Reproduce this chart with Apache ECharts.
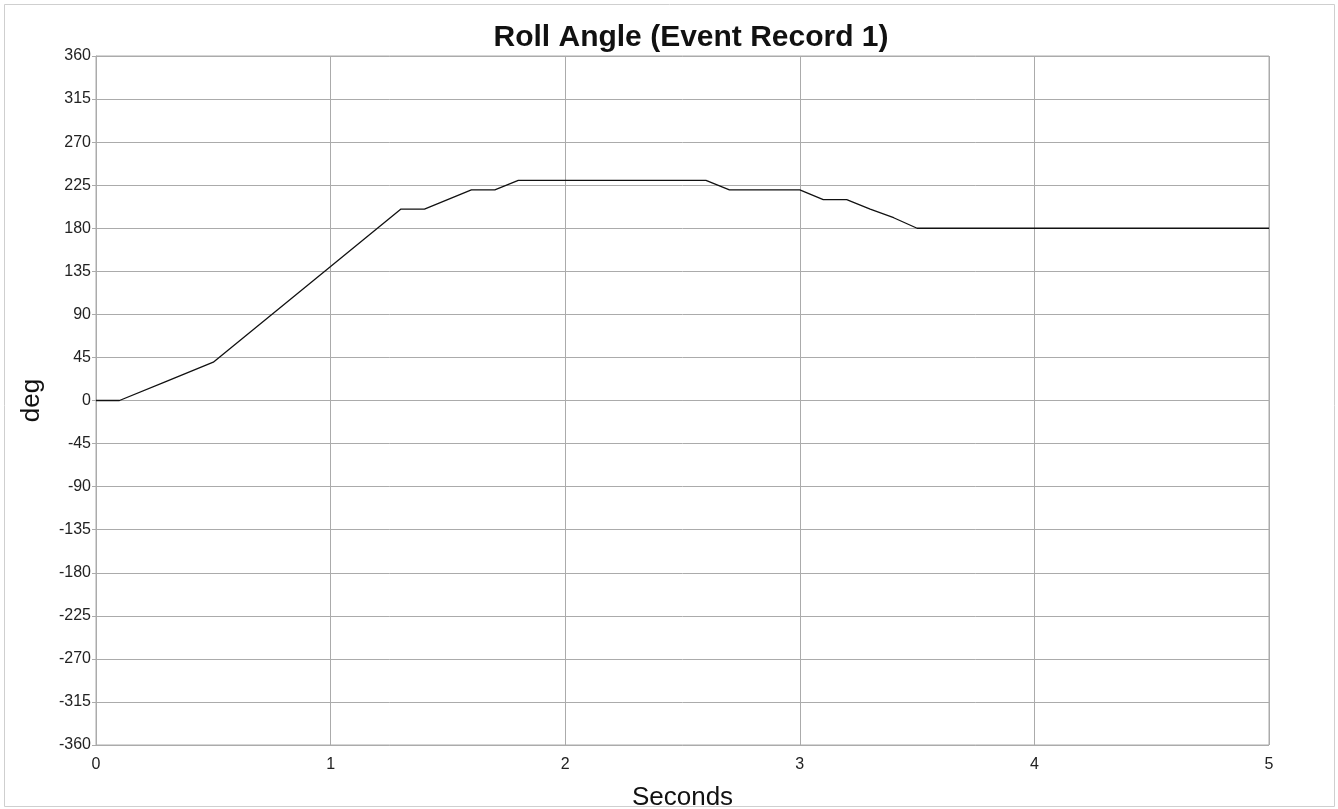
<!DOCTYPE html>
<html>
<head>
<meta charset="utf-8">
<script src="https://cdn.jsdelivr.net/npm/echarts@6/dist/echarts.min.js"></script>
<style>
  html, body { margin: 0; padding: 0; background: #fff; }
  #chart { width: 1338px; height: 809px; }
</style>
</head>
<body>
<div id="chart"></div>
<script>
// Sample times (s) and roll angle (deg) for event record 1
const seconds = [0, 0.1, 0.3, 0.5, 1.0, 1.3, 1.4, 1.6, 1.7, 1.8, 2.6, 2.7, 3.0, 3.1, 3.2, 3.3, 3.4, 3.5, 5.0];
const rollDeg = [0, 0, 20, 40, 140, 200, 200, 220, 220, 230, 230, 220, 220, 210, 210, 200, 191, 180, 180];

const yTicks = [-360, -315, -270, -225, -180, -135, -90, -45, 0, 45, 90, 135, 180, 225, 270, 315, 360];
const xTicks = [0, 1, 2, 3, 4, 5];

const chart = echarts.init(document.getElementById('chart'), null, { renderer: 'canvas' });

const gridColor = '#ababab';
const textFont = '"Liberation Sans", Arial, sans-serif';

chart.setOption({
  animation: false,
  backgroundColor: '#ffffff',
  graphic: [{
    type: 'rect',
    shape: { x: 4.5, y: 4.5, width: 1330, height: 802 },
    style: { fill: 'none', stroke: '#cfcfcf', lineWidth: 1 },
    silent: true
  }],
  title: {
    text: 'Roll Angle (Event Record 1)',
    left: 686,
    textAlign: 'center',
    top: 18,
    textStyle: { fontFamily: textFont, fontSize: 30, fontWeight: 'bold', color: '#111' }
  },
  grid: { left: 96, right: 69, top: 56, bottom: 64, containLabel: false,
          outerBoundsMode: 'none',
          show: true, borderColor: gridColor, borderWidth: 1 },
  xAxis: {
    type: 'value',
    min: xTicks[0],
    max: xTicks[xTicks.length - 1],
    interval: 1,
    name: 'Seconds',
    nameLocation: 'middle',
    nameGap: 40,
    nameTextStyle: { fontFamily: textFont, fontSize: 26, color: '#111' },
    axisLine: { show: true, lineStyle: { color: gridColor, width: 1 } },
    axisTick: { show: false },
    axisLabel: { fontFamily: textFont, fontSize: 16, color: '#222', margin: 12,
                 formatter: v => xTicks.includes(v) ? String(v) : '' },
    splitLine: { show: true, lineStyle: { color: gridColor, width: 1 } }
  },
  yAxis: {
    type: 'value',
    min: yTicks[0],
    max: yTicks[yTicks.length - 1],
    interval: 45,
    name: 'deg',
    nameLocation: 'middle',
    nameGap: 51,
    nameRotate: 90,
    nameTextStyle: { fontFamily: textFont, fontSize: 26, color: '#111' },
    axisLine: { show: true, lineStyle: { color: gridColor, width: 1 } },
    axisTick: { show: true, length: 4, lineStyle: { color: gridColor } },
    axisLabel: { fontFamily: textFont, fontSize: 16, color: '#222', margin: 5 },
    splitLine: { show: true, lineStyle: { color: gridColor, width: 1 } }
  },
  series: [{
    type: 'line',
    data: seconds.map((t, i) => [t, rollDeg[i]]),
    showSymbol: false,
    lineStyle: { color: '#111', width: 1.3 },
    z: 5
  }]
});
</script>
</body>
</html>
